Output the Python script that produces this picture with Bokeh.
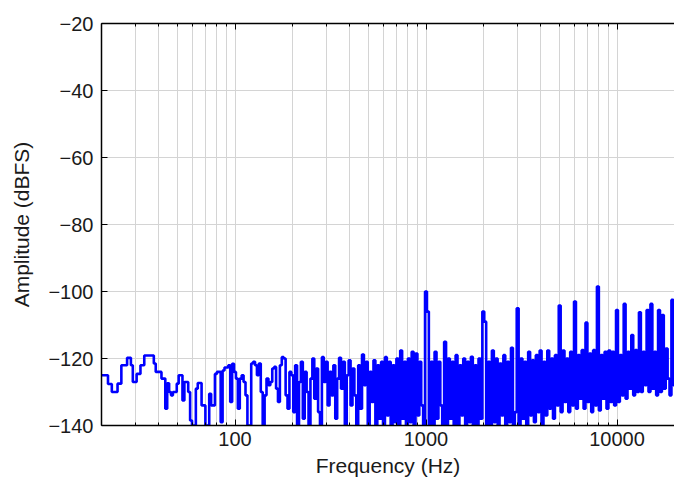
from bokeh.plotting import figure
from bokeh.models import Range1d, FixedTicker, LogAxis, BasicTickFormatter
from bokeh.embed import file_html
from bokeh.resources import INLINE

# ---- data ----
freq_20_100 = [19.95, 20.42, 20.89, 21.38, 21.88, 22.39, 22.91, 23.44, 23.99, 24.55,
               25.12, 25.70, 26.30, 26.92, 27.54, 28.18, 28.84, 29.51, 30.20, 30.90,
               31.62, 32.36, 33.11, 33.88, 34.67, 35.48, 36.31, 37.15, 38.02, 38.90,
               39.81, 40.74, 41.69, 42.66, 43.65, 44.67, 45.71, 46.77, 47.86, 48.98,
               50.12, 51.29, 52.48, 53.70, 54.95, 56.23, 57.54, 58.88, 60.26, 61.66,
               63.10, 64.57, 66.07, 67.61, 69.18, 70.79, 72.44, 74.13, 75.86, 77.62,
               79.43, 81.28, 83.18, 85.11, 87.10, 89.13, 91.20, 93.33, 95.50, 97.72]
amp_20_100 = [-125, -125, -125, -125, -127.6, -127.6, -130, -130, -130, -127.5,
              -127.5, -122, -122, -122, -119.8, -119.8, -122, -127, -127, -124.6,
              -124.6, -122, -122, -119.1, -119.1, -119.1, -119.1, -119.1, -121.5, -124,
              -124, -124, -126, -126, -135, -127.4, -130, -131, -130, -130,
              -127.5, -125, -125, -132.5, -127, -127, -130, -138.5, -140, -140,
              -129, -127.3, -127.3, -134, -134, -140, -140, -130.5, -134, -134,
              -124.6, -124, -124, -139, -123.6, -122.7, -122.7, -122, -133, -121.6]

freq_100_1k = [100, 102.3, 104.7, 107.2, 109.6, 112.2, 114.8, 117.5, 120.2, 123.0,
               125.9, 128.8, 131.8, 134.9, 138.0, 141.3, 144.5, 147.9, 151.4, 154.9,
               158.5, 162.2, 166.0, 169.8, 173.8, 177.8, 182.0, 186.2, 190.5, 195.0,
               199.5, 204.2, 208.9, 213.8, 218.8, 223.9, 229.1, 234.4, 239.9, 245.5,
               251.2, 257.0, 263.0, 269.2, 275.4, 281.8, 288.4, 295.1, 302.0, 309.0,
               316.2, 323.6, 331.1, 338.8, 346.7, 354.8, 363.1, 371.5, 380.2, 389.0,
               398.1, 407.4, 416.9, 426.6, 436.5, 446.7, 457.1, 467.7, 478.6, 489.8,
               501.2, 512.9, 524.8, 537.0, 549.5, 562.3, 575.4, 588.8, 602.6, 616.6,
               631.0, 645.7, 660.7, 676.1, 691.8, 707.9, 724.4, 741.3, 758.6, 776.2,
               794.3, 812.8, 831.8, 851.1, 871.0, 891.3, 912.0, 933.3, 955.0, 977.2]
amp_100_1k = [-124, -126, -135, -126, -125, -127, -131, -140, -140, -121.5,
              -121, -122, -125, -121.5, -130, -140, -131, -126, -128, -127,
              -123, -122.5, -129, -133, -122, -119.6, -120, -131, -135, -124,
              -125, -136, -122, -140, -127, -121, -138, -124, -130, -140,
              -126, -120, -132, -123, -136, -140, -119.6, -127, -121, -134,
              -124, -131, -122, -138, -126, -119.8, -129, -121, -140, -125,
              -120.5, -134, -123, -131, -140, -122, -135, -118.8, -128, -121,
              -140, -124, -133, -120.5, -140, -122, -138, -121, -140, -119.6,
              -137, -121, -140, -122, -139, -120, -140, -117.6, -138, -121,
              -140, -120, -139, -118, -140, -118.5, -137, -121, -134, -140]

freq_1k_10k = [1000, 1023, 1047, 1072, 1096, 1122, 1148, 1175, 1202, 1230,
               1259, 1288, 1318, 1349, 1380, 1413, 1445, 1479, 1514, 1549,
               1585, 1622, 1660, 1698, 1738, 1778, 1820, 1862, 1905, 1950,
               1995, 2042, 2089, 2138, 2188, 2239, 2291, 2344, 2399, 2455,
               2512, 2570, 2630, 2692, 2754, 2818, 2884, 2951, 3020, 3090,
               3162, 3236, 3311, 3388, 3467, 3548, 3631, 3715, 3802, 3890,
               3981, 4074, 4169, 4266, 4365, 4467, 4571, 4677, 4786, 4898,
               5012, 5129, 5248, 5370, 5495, 5623, 5754, 5888, 6026, 6166,
               6310, 6457, 6607, 6761, 6918, 7079, 7244, 7413, 7586, 7762,
               7943, 8128, 8318, 8511, 8710, 8913, 9120, 9333, 9550, 9772]
amp_1k_10k = [-100, -106, -140, -121, -140, -118, -138, -121, -134, -140,
              -115, -140, -120, -138, -121, -140, -119, -140, -122, -137,
              -120, -140, -121, -139, -119.5, -140, -122, -140, -120, -138,
              -106, -109, -140, -121, -140, -117.6, -139, -120, -140, -121.5,
              -137, -119, -140, -121, -139, -116.8, -140, -136, -105, -140,
              -120, -138, -121, -140, -118, -137, -120.5, -139, -119, -136,
              -117.6, -140, -121, -137, -117.6, -135, -120, -138, -119, -134,
              -104.2, -136, -117.6, -133, -120, -136, -118, -134, -103, -135,
              -119, -132, -117.5, -135, -109.3, -133, -118.5, -136, -117.5, -134,
              -98.5, -135.5, -119, -132, -118, -135, -117.6, -133, -118, -134]

freq_10k_20k = [10000, 10230, 10470, 10720, 10960, 11220, 11480, 11750, 12020, 12300,
                12590, 12880, 13180, 13490, 13800, 14130, 14450, 14790, 15140, 15490,
                15850, 16220, 16600, 16980, 17380, 17780, 18200, 18620, 19050, 19500,
                19950]
amp_10k_20k = [-105.5, -133, -119, -131, -103.7, -132, -118, -129, -113, -131,
               -117.5, -130, -106.2, -130, -118, -128, -105.5, -130, -103.7, -129,
               -118, -131, -105.5, -130, -107, -129, -117, -126, -131, -102.5,
               -128]

x_major_ticks = [100, 1000, 10000]
x_tick_labels = ["100", "1000", "10000"]
x_minor_ticks = [20, 30, 40, 50, 60, 70, 80, 90,
                 200, 300, 400, 500, 600, 700, 800, 900,
                 2000, 3000, 4000, 5000, 6000, 7000, 8000, 9000]
y_ticks = [-140, -120, -100, -80, -60, -40, -20]
y_tick_labels = ["\u2212140", "\u2212120", "\u2212100", "\u221280", "\u221260", "\u221240", "\u221220"]

freq = freq_20_100 + freq_100_1k + freq_1k_10k + freq_10k_20k
amp = amp_20_100 + amp_100_1k + amp_1k_10k + amp_10k_20k

FONT = "Liberation Sans"
TXT = "#1a1a1a"
GRID = "#d4d4d4"

p = figure(width=674, height=485, x_axis_type="log",
           x_range=Range1d(20, 20000), y_range=Range1d(-140, -20),
           output_backend="svg", toolbar_location=None,
           min_border_left=101, min_border_right=0, min_border_top=23, min_border_bottom=60)
p.outline_line_color = None
p.background_fill_color = "white"
p.border_fill_color = "white"

xt = FixedTicker(ticks=x_major_ticks, minor_ticks=x_minor_ticks)
yt = FixedTicker(ticks=y_ticks)

p.xgrid.ticker = xt
p.ygrid.ticker = yt
p.xgrid.grid_line_color = GRID
p.xgrid.minor_grid_line_color = GRID
p.ygrid.grid_line_color = GRID

p.step(freq, amp, mode="center", line_color="#0000ff", line_width=2.6)

bx = p.below[0]
bx.ticker = xt
bx.formatter = BasicTickFormatter()
bx.major_label_overrides = {str(k): v for k, v in zip(x_major_ticks, x_tick_labels)}
bx.axis_label = "Frequency (Hz)"

ly = p.left[0]
ly.ticker = yt
ly.major_label_overrides = {str(k): v for k, v in zip(y_ticks, y_tick_labels)}
ly.axis_label = "Amplitude (dBFS)"

for ax in (bx, ly):
    ax.axis_line_color = "#000000"
    ax.axis_line_width = 1.5
    ax.major_tick_line_color = "#000000"
    ax.minor_tick_line_color = "#000000"
    ax.major_tick_in = 6
    ax.major_tick_out = 0
    ax.minor_tick_in = 3
    ax.minor_tick_out = 0
    ax.major_label_text_font = FONT
    ax.major_label_text_font_size = "20px"
    ax.major_label_text_color = TXT
    ax.axis_label_text_font = FONT
    ax.axis_label_text_font_size = "21px"
    ax.axis_label_text_font_style = "normal"
    ax.axis_label_text_color = TXT
bx.major_label_standoff = 6
bx.axis_label_standoff = 5
ly.major_label_standoff = 8
ly.axis_label_standoff = 12

top = LogAxis(ticker=xt, major_label_text_font_size="2px", major_label_text_alpha=0.0,
              axis_line_color="#000000", axis_line_width=1.5,
              major_tick_line_color="#000000", minor_tick_line_color="#000000",
              major_tick_in=6, major_tick_out=0, minor_tick_in=3, minor_tick_out=0,
              major_label_standoff=0)
p.add_layout(top, "above")

open("out.html", "w").write(file_html(p, INLINE))
